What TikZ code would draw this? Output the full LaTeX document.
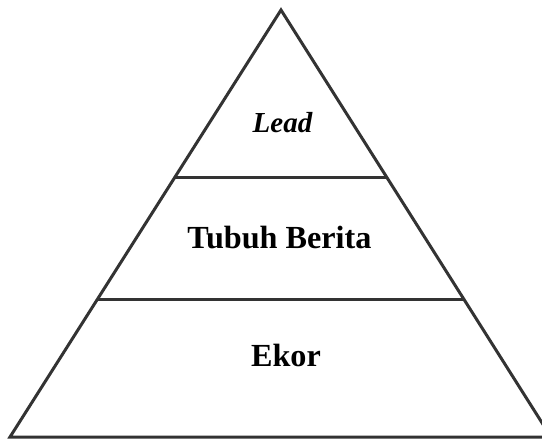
\documentclass[tikz,border=0pt]{standalone}
\usepackage{fontspec}
\setmainfont{Liberation Serif}
\begin{document}
\begin{tikzpicture}[x=1pt,y=-1pt,
  edge/.style={line width=3pt, draw=black!80, line join=miter},
  label/.style={anchor=base, inner sep=0pt, font=\fontsize{32.2}{32}\selectfont\bfseries}]
\useasboundingbox (0,0) rectangle (542,439);
\clip (0,0) rectangle (542,439);
\coordinate (apex) at (281,10);
\coordinate (bl) at (10,437);
\coordinate (br) at (551,437);
\draw[edge] (bl) -- (apex) -- (br) -- cycle;
\path (apex) -- (bl) coordinate[pos=0.3934] (l1) coordinate[pos=0.679] (l2);
\path (apex) -- (br) coordinate[pos=0.3934] (r1) coordinate[pos=0.679] (r2);
\draw[edge] (l1) -- (r1);
\draw[edge] (l2) -- (r2);
\node[label, font=\fontsize{29}{29}\selectfont\bfseries\itshape] (lead) at (282.5,132) {Lead};
\node[label] (tubuh) at (279.5,248) {Tubuh Berita};
\node[label] (ekor) at (286,366) {Ekor};
\end{tikzpicture}
\end{document}
